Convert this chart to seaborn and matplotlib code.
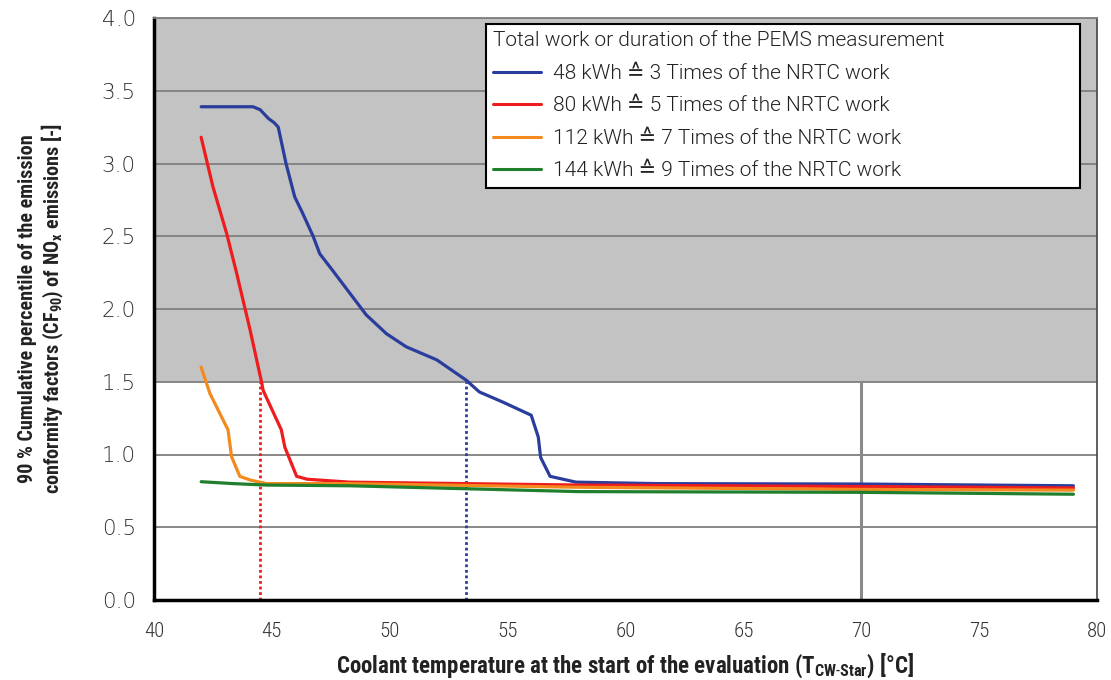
import matplotlib
matplotlib.use("Agg")
import matplotlib.pyplot as plt
import seaborn as sns
import pandas as pd
from matplotlib.lines import Line2D
from matplotlib.font_manager import FontProperties

# ---- data ----
labels = [
    "48 kWh \u2259 3 Times of the NRTC work",
    "80 kWh \u2259 5 Times of the NRTC work",
    "112 kWh \u2259 7 Times of the NRTC work",
    "144 kWh \u2259 9 Times of the NRTC work",
]
legend_title = "Total work or duration of the PEMS measurement"
blue_x = [42.0, 44.2, 44.5, 44.85, 45.1, 45.27, 45.6, 45.97, 46.3, 46.75, 47.03, 47.6, 48.3,
          49.0, 49.86, 50.7, 52.0, 53.25, 53.8, 54.8, 56.0, 56.3, 56.4, 56.8, 57.9, 61.3, 70.0, 79.0]
blue_y = [3.39, 3.39, 3.37, 3.31, 3.28, 3.25, 3.0, 2.77, 2.66, 2.50, 2.38, 2.26, 2.11,
          1.96, 1.83, 1.74, 1.65, 1.51, 1.43, 1.36, 1.27, 1.12, 0.98, 0.85, 0.81, 0.80, 0.797, 0.785]
red_x = [42.0, 42.5, 43.08, 43.5, 44.07, 44.56, 44.63, 45.4, 45.55, 46.05, 46.5, 48.3, 58.0, 70.0, 79.0]
red_y = [3.18, 2.84, 2.52, 2.25, 1.86, 1.50, 1.44, 1.17, 1.05, 0.85, 0.83, 0.81, 0.79, 0.78, 0.77]
orange_x = [42.0, 42.37, 42.86, 43.14, 43.29, 43.64, 44.07, 44.77, 48.3, 58.0, 70.0, 79.0]
orange_y = [1.60, 1.42, 1.26, 1.17, 0.985, 0.85, 0.825, 0.80, 0.80, 0.775, 0.76, 0.755]
green_x = [42.0, 43.35, 44.77, 48.3, 58.0, 70.0, 79.0]
green_y = [0.813, 0.80, 0.79, 0.785, 0.745, 0.74, 0.727]

limit_cf = 1.5
red_cross_x = 44.5
blue_cross_x = 53.25
ref_temp = 70.0

y_ticks = [0.0, 0.5, 1.0, 1.5, 2.0, 2.5, 3.0, 3.5, 4.0]
x_ticks = [40, 45, 50, 55, 60, 65, 70, 75, 80]

colors = ["#2a3d9c", "#ee1c1c", "#f28a1e", "#1f7f2c"]

frames = []
for lab, xs, ys in zip(labels, [blue_x, red_x, orange_x, green_x], [blue_y, red_y, orange_y, green_y]):
    frames.append(pd.DataFrame({"T": xs, "CF": ys, "series": lab}))
df = pd.concat(frames, ignore_index=True)

sns.set_theme(style="white")
COND = ["Roboto Condensed", "DejaVu Sans"]
plt.rcParams["font.family"] = COND
plt.rcParams["mathtext.fontset"] = "custom"
plt.rcParams["mathtext.rm"] = "Roboto Condensed"
plt.rcParams["mathtext.bf"] = "Roboto Condensed:bold"

fig = plt.figure(figsize=(11.11, 6.8), dpi=100)
ax = fig.add_axes([154 / 1111, 80 / 680, 943 / 1111, 582 / 680])

ax.axhspan(limit_cf, 4.0, color="#c3c3c3", zorder=0, lw=0)
for yt in y_ticks[1:]:
    ax.axhline(yt, color="#7f7f7f", lw=1.3, zorder=1)

ax.vlines(ref_temp, 0, limit_cf, color="#8a8a8a", lw=2.2, zorder=1.5)
ax.vlines(red_cross_x, 0, limit_cf, color="#ee1c1c", lw=2, linestyles=(0, (1, 1)), zorder=2)
ax.vlines(blue_cross_x, 0, limit_cf, color="#2a3d9c", lw=2, linestyles=(0, (1, 1)), zorder=2)

sns.lineplot(data=df, x="T", y="CF", hue="series", palette=colors, hue_order=labels,
             sort=False, estimator=None, lw=2.3, ax=ax, legend=False, zorder=3)

ax.set_xlim(40, 80)
ax.set_ylim(0, 4.0)
ax.set_xticks(x_ticks)
ax.set_yticks(y_ticks)
ax.set_xticklabels([str(v) for v in x_ticks], fontsize=15, color="#333333",
                   family=COND, fontweight=300)
ax.set_yticklabels([f"{v:.1f}" for v in y_ticks], fontsize=15.5, color="#333333",
                   family=["DejaVu Sans"], fontweight=200)
ax.tick_params(axis="both", direction="out", length=8, width=1.8, color="black")
ax.tick_params(axis="x", pad=8)
ax.tick_params(axis="y", pad=5)

for side in ["left", "bottom"]:
    ax.spines[side].set_color("black")
    ax.spines[side].set_linewidth(2.5)
ax.spines["right"].set_color("#444444")
ax.spines["right"].set_linewidth(1.2)
ax.spines["top"].set_color("#7f7f7f")
ax.spines["top"].set_linewidth(1.3)

ax.set_xlabel("Coolant temperature at the start of the evaluation (T$_{\\mathbf{CW\\text{-}Star}}$) [\u00b0C]",
              fontsize=16.5, fontweight="bold", color="#222222", labelpad=7)
ax.set_ylabel("90 % Cumulative percentile of the emission\nconformity factors (CF$_{\\mathbf{90}}$) of NO$_{\\mathbf{x}}$ emissions [-]",
              fontsize=14.5, fontweight="bold", color="#222222", labelpad=26, linespacing=1.15)

leg_font = FontProperties(family=["Roboto", "DejaVu Sans"], weight=300, size=15)
handles = [Line2D([0], [0], color=c, lw=2.2) for c in colors]
leg = ax.legend(handles, labels, title=legend_title,
                loc="upper left", bbox_to_anchor=(0.352, 0.9897, 0.630, 0.0),
                mode="expand", prop=leg_font, title_fontproperties=leg_font,
                frameon=True, fancybox=False, framealpha=1,
                edgecolor="black", handlelength=2.3, handletextpad=0.55,
                labelspacing=0.65, borderpad=0.35, borderaxespad=0.0, alignment="left")
leg.get_frame().set_linewidth(1.5)
for t in leg.get_texts():
    t.set_color("#222222")
leg.get_title().set_color("#222222")
leg.set_zorder(5)

fig.savefig("out.png", dpi=100)
